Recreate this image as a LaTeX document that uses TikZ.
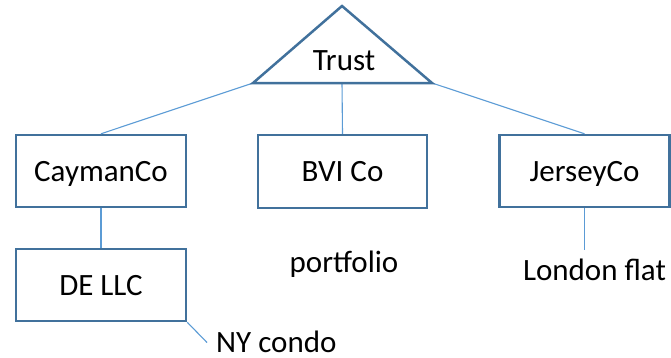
\documentclass[tikz,border=0pt]{standalone}
\usepackage{fontspec}
\setmainfont{Carlito}
\usepackage{tikz}

\definecolor{boxblue}{HTML}{41719C}
\definecolor{lineblue}{HTML}{5B9BD5}

\begin{document}
\begin{tikzpicture}[x=1pt,y=-1pt,
  every node/.style={font=\fontsize{31}{37}\selectfont,inner sep=0pt,
                     text height=20pt,text depth=0pt},
  box/.style={draw=boxblue,line width=2.5pt,minimum width=170pt,minimum height=72pt},
  link/.style={draw=lineblue,line width=1.1pt}]
\useasboundingbox (0,0) rectangle (671,357);
% trust triangle
\coordinate (apex) at (342,6);
\coordinate (baseL) at (253,83);
\coordinate (baseM) at (342,83);
\coordinate (baseR) at (432,83);
\node (trust) at (344,60) {Trust};
% companies
\node[box] (cayman) at (101,171) {CaymanCo};
\node[box,minimum width=169pt,minimum height=73pt] (bvi) at (342.5,171.5) {BVI Co};
\node[box] (jersey) at (584.5,171) {JerseyCo};
\node[box] (dellc) at (101,285) {DE LLC};
% assets
\node (portfolio) at (344,262) {portfolio};
\node (london) at (594.5,270) {London flat};
\node[anchor=west] (nycondo) at (216,342.5) {NY condo};
% links
\draw[link] (baseL) -- (cayman.north);
\draw[link] (baseM) -- (bvi.north);
\draw[link] (baseR) -- (jersey.north);
\draw[link] (cayman.south) -- (dellc.north);
\draw[link,shorten >=10pt] (jersey.south) -- (jersey.south |- london.north);
\draw[link] (dellc.south east) -- ([xshift=-9pt]nycondo.west);
\draw[boxblue,line width=2.5pt,line join=miter] (apex) -- (baseR) -- (baseL) -- cycle;
\end{tikzpicture}
\end{document}
